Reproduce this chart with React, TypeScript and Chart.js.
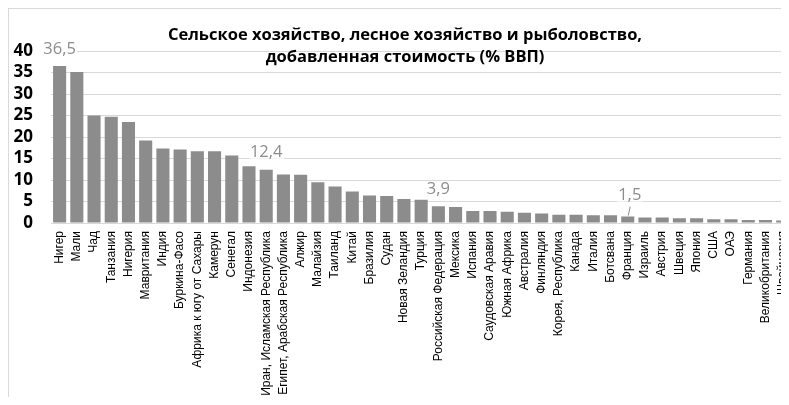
import React, { useEffect, useRef } from 'react';
import { Chart, registerables } from 'chart.js';

Chart.register(...registerables);

const categories = [
  'Нигер', 'Мали', 'Чад', 'Танзания', 'Нигерия', 'Мавритания', 'Индия', 'Буркина-Фасо',
  'Африка к югу от Сахары', 'Камерун', 'Сенегал', 'Индонезия', 'Иран, Исламская Республика',
  'Египет, Арабская Республика', 'Алжир', 'Малайзия', 'Таиланд', 'Китай', 'Бразилия', 'Судан',
  'Новая Зеландия', 'Турция', 'Российская Федерация', 'Мексика', 'Испания', 'Саудовская Аравия',
  'Южная Африка', 'Австралия', 'Финляндия', 'Корея, Республика', 'Канада', 'Италия', 'Ботсвана',
  'Франция', 'Израиль', 'Австрия', 'Швеция', 'Япония', 'США', 'ОАЭ', 'Германия',
  'Великобритания', 'Швейцария',
];

const values = [
  36.5, 35.1, 25.0, 24.7, 23.5, 19.2, 17.3, 17.1, 16.7, 16.7, 15.7, 13.2, 12.4, 11.3, 11.2,
  9.5, 8.5, 7.3, 6.4, 6.3, 5.6, 5.4, 3.9, 3.7, 2.8, 2.8, 2.6, 2.4, 2.2, 1.9, 1.9, 1.8, 1.8,
  1.5, 1.3, 1.3, 1.1, 1.1, 0.9, 0.9, 0.7, 0.7, 0.6,
];

const yMin = 0;
const yMax = 40;
const yStep = 5;

const titleLines = [
  'Сельское хозяйство, лесное хозяйство и рыболовство,',
  'добавленная стоимость (% ВВП)',
];

const labeledIndices = [0, 12, 22, 33];

export default function App() {
  const ref = useRef<HTMLCanvasElement>(null);

  useEffect(() => {
    const canvas = ref.current;
    if (!canvas) return;

    const overlay = {
      id: 'overlay',
      afterDatasetsDraw(chart: any) {
        const c = chart.ctx;
        const meta = chart.getDatasetMeta(0);
        c.save();
        c.font = '16.5px "Open Sans"';
        c.textAlign = 'center';
        c.textBaseline = 'middle';
        labeledIndices.forEach((idx, k) => {
          const bar = meta.data[idx];
          const text = values[idx].toFixed(1).replace('.', ',');
          const leader = k === labeledIndices.length - 1;
          const off = leader ? 21 : 17;
          const x = bar.x + (leader ? 2 : 0);
          const y = bar.y - off;
          const w = c.measureText(text).width;
          c.fillStyle = '#ffffff';
          c.fillRect(x - w / 2 - 1, y - 6, w + 2, 12);
          c.fillStyle = '#8c8c8c';
          c.fillText(text, x, y);
          if (leader) {
            c.strokeStyle = '#8c8c8c';
            c.lineWidth = 1;
            c.beginPath();
            c.moveTo(bar.x + 2.5, y + 11);
            c.lineTo(bar.x + 0.5, bar.y - 1);
            c.stroke();
          }
        });
        c.restore();
      },
      afterDraw(chart: any) {
        const c = chart.ctx;
        c.save();
        c.font = 'bold 16.5px "Open Sans"';
        c.fillStyle = '#000000';
        c.textAlign = 'center';
        c.textBaseline = 'alphabetic';
        titleLines.forEach((t, i) => c.fillText(t, 396, 31 + i * 22));
        c.restore();
      },
    };

    const chart = new Chart(canvas, {
      type: 'bar',
      data: {
        labels: categories,
        datasets: [
          {
            data: values,
            backgroundColor: '#8c8c8c',
            barPercentage: 0.76,
            categoryPercentage: 1,
          },
        ],
      },
      options: {
        animation: false,
        responsive: false,
        devicePixelRatio: 1,
        layout: { padding: { top: 42, right: 17.7, left: 0, bottom: 0 } },
        plugins: {
          legend: { display: false },
          tooltip: { enabled: false },
          title: { display: false },
        },
        scales: {
          x: {
            ticks: {
              autoSkip: false,
              maxRotation: 90,
              minRotation: 90,
              font: { family: '"Liberation Sans"', size: 12 },
              color: '#000000',
              padding: 8,
            },
            grid: { display: false, drawTicks: false },
            border: { display: true, color: '#d9d9d9' },
            afterFit(s: any) {
              s.height = 174;
            },
          },
          y: {
            min: yMin,
            max: yMax,
            ticks: {
              stepSize: yStep,
              autoSkip: false,
              font: { family: '"Open Sans"', size: 17, weight: 'bold' },
              color: '#000000',
              padding: 18,
            },
            grid: { color: '#d9d9d9', drawTicks: false },
            border: { display: false },
            afterFit(s: any) {
              s.width = 42;
            },
          },
        },
      },
      plugins: [overlay],
    });

    return () => chart.destroy();
  }, []);

  return (
    <div
      style={{
        position: 'relative',
        width: 780,
        height: 388,
        borderTop: '1px solid #d9d9d9',
        borderLeft: '1px solid #d9d9d9',
        overflow: 'hidden',
      }}
    >
      <canvas ref={ref} width={800} height={388} style={{ display: 'block', width: 800, height: 388 }} />
    </div>
  );
}
